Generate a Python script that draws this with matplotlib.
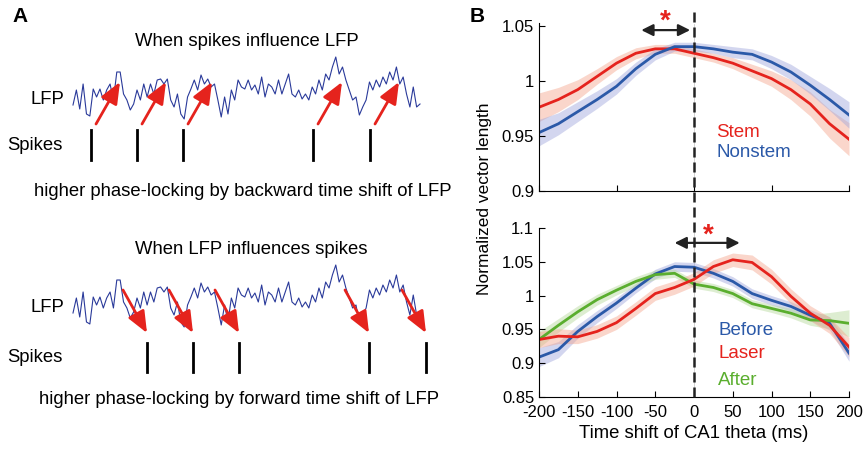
import matplotlib
matplotlib.use("Agg")
import matplotlib.pyplot as plt
import numpy as np

plt.rcParams['font.family'] = ['Liberation Sans', 'DejaVu Sans']
plt.rcParams['axes.unicode_minus'] = False

# ---------------- data: panel B ----------------
shift_ms = [-200, -175, -150, -125, -100, -75, -50, -25, 0,
            25, 50, 75, 100, 125, 150, 175, 200]

stem = [0.976, 0.983, 0.992, 1.004, 1.016, 1.025, 1.029, 1.029, 1.025,
        1.021, 1.016, 1.009, 1.002, 0.992, 0.979, 0.961, 0.947]
stem_err = [0.013, 0.011, 0.009, 0.007, 0.006, 0.005, 0.004, 0.004, 0.004,
            0.004, 0.005, 0.006, 0.007, 0.009, 0.011, 0.013, 0.015]
nonstem = [0.953, 0.961, 0.972, 0.983, 0.995, 1.011, 1.024, 1.031, 1.031,
           1.029, 1.026, 1.024, 1.017, 1.008, 0.996, 0.983, 0.969]
nonstem_err = [0.012, 0.010, 0.009, 0.008, 0.007, 0.006, 0.005, 0.004, 0.004,
               0.004, 0.005, 0.005, 0.006, 0.007, 0.008, 0.010, 0.012]

before = [0.909, 0.920, 0.947, 0.969, 0.989, 1.011, 1.032, 1.043, 1.042,
          1.033, 1.021, 1.003, 0.993, 0.984, 0.971, 0.959, 0.915]
before_err = [0.014, 0.012, 0.010, 0.009, 0.008, 0.007, 0.007, 0.007, 0.007,
              0.007, 0.007, 0.007, 0.007, 0.007, 0.008, 0.010, 0.012]
laser = [0.935, 0.940, 0.939, 0.947, 0.960, 0.981, 1.003, 1.012, 1.024,
         1.043, 1.053, 1.049, 1.028, 0.999, 0.974, 0.956, 0.924]
laser_err = [0.012, 0.011, 0.010, 0.010, 0.010, 0.010, 0.010, 0.010, 0.010,
             0.010, 0.010, 0.011, 0.011, 0.011, 0.011, 0.012, 0.014]
after = [0.935, 0.956, 0.976, 0.994, 1.008, 1.021, 1.031, 1.033, 1.017,
         1.012, 1.003, 0.988, 0.981, 0.974, 0.964, 0.963, 0.959]
after_err = [0.012, 0.010, 0.009, 0.008, 0.007, 0.007, 0.007, 0.006, 0.006,
             0.006, 0.006, 0.006, 0.006, 0.007, 0.008, 0.012, 0.020]

# ---------------- data: panel A (schematic) ----------------
# LFP trace sampled every ~3.3 px, amplitude in px above baseline
lfp = [-8, 7, -12, 13, -17, -19, 8, 0, 8, -3, 7, 13, -3, 25, 25, 3,
       -3, -13, -7, 7, -3, 13, 0, 13, 3, 17, 18, 13, 18, -3, -10, 3,
       -17, -22, 0, 8, 17, 7, 22, 13, 18, 10, 13, -3, -20, 0, -17, 7,
       -3, 17, 10, 8, 17, 7, 12, 3, 20, 0, 13, 10, 3, 17, 3, 13, 23,
       3, 0, 7, -2, 3, -3, 10, 3, 17, 7, 23, 17, 30, 40, 23, 30, 17,
       7, -3, 0, -18, -10, -3, 15, 7, 17, 10, 20, 13, 25, 17, 30, 13,
       20, 3, -10, 10, -10, -7]
lfp_x0, lfp_x1 = 73, 420

spikes_top = [91, 137, 183, 313, 370]
spikes_bottom = [147, 193, 239, 369, 426]

RED = '#e5231d'
BLUE = '#2b59a8'
GREEN = '#5aae2e'

fig = plt.figure(figsize=(8.64, 4.5), dpi=100)

# ---------------- panel A ----------------
axa = fig.add_axes([0, 0, 440 / 864, 1])
axa.set_xlim(0, 440)
axa.set_ylim(450, 0)
axa.axis('off')

lx = np.linspace(lfp_x0, lfp_x1, len(lfp))
la = np.array(lfp)
for base in (97, 305):
    axa.plot(lx, base - la, color='#2a3a9a', lw=0.8)

def txt(x, y, s, **kw):
    axa.text(x, y, s, fontsize=13.3, va='center', clip_on=False, **kw)

txt(247, 42, 'When spikes influence LFP', ha='center')
txt(64, 100, 'LFP', ha='right')
txt(63, 146, 'Spikes', ha='right')
txt(243, 192, 'higher phase-locking by backward time shift of LFP', ha='center')
txt(251, 250, 'When LFP influences spikes', ha='center')
txt(64, 307, 'LFP', ha='right')
txt(63, 357, 'Spikes', ha='right')
txt(239, 400, 'higher phase-locking by forward time shift of LFP', ha='center')

arrow_kw = dict(arrowstyle='-|>,head_length=1.0,head_width=0.42',
                color=RED, lw=2, mutation_scale=13, shrinkA=0, shrinkB=0)
for s in spikes_top:
    axa.plot([s, s], [130, 160], color='k', lw=2)
    axa.annotate('', xy=(s + 29, 82), xytext=(s + 5, 124), arrowprops=arrow_kw)
for s in spikes_bottom:
    axa.plot([s, s], [343, 372], color='k', lw=2)
    axa.annotate('', xy=(s, 333), xytext=(s - 24, 290), arrowprops=arrow_kw)

fig.text(12 / 864, 1 - 17 / 450, 'A', fontsize=15, fontweight='bold', va='center')
fig.text(470 / 864, 1 - 17 / 450, 'B', fontsize=15, fontweight='bold', va='center')

# ---------------- panel B ----------------
W = 310 / 864
ax1 = fig.add_axes([539 / 864, 1 - 191 / 450, W, 167.5 / 450])
ax2 = fig.add_axes([539 / 864, 1 - 397 / 450, W, 169 / 450])

def band(ax, y, e, c, fc):
    y = np.array(y)
    e = np.array(e)
    ax.fill_between(shift_ms, y - e, y + e, color=fc, alpha=0.45, lw=0)
    ax.plot(shift_ms, y, color=c, lw=2)

band(ax1, stem, stem_err, RED, '#f4a58c')
band(ax1, nonstem, nonstem_err, BLUE, '#9fa6dc')

band(ax2, before, before_err, BLUE, '#9fa6dc')
band(ax2, after, after_err, GREEN, '#b5d99a')
band(ax2, laser, laser_err, RED, '#f4a58c')

for ax in (ax1, ax2):
    ax.set_xlim(-200, 200)
    for sp in ('top', 'right'):
        ax.spines[sp].set_visible(False)
    ax.tick_params(direction='in', labelsize=12, length=4)
    ax.tick_params(axis='x', pad=6)
    ax.axvline(0, color='#cccccc', lw=0.6, zorder=0)

ax1.set_ylim(0.9, 1.052)
ax1.set_yticks([0.9, 0.95, 1.0, 1.05])
ax1.set_yticklabels(['0.9', '0.95', '1', '1.05'])
ax1.set_xticks([-200, -100, 0, 100, 200])
ax1.set_xticklabels([])

ax2.set_ylim(0.85, 1.1)
ax2.set_yticks([0.85, 0.9, 0.95, 1.0, 1.05, 1.1])
ax2.set_yticklabels(['0.85', '0.9', '0.95', '1', '1.05', '1.1'])
ax2.set_xticks(range(-200, 201, 50))
ax2.set_xlabel('Time shift of CA1 theta (ms)', fontsize=13.3, labelpad=3)

# dashed zero line spanning both panels
vl = ax2.axvline(0, ymin=0, ymax=2.28, color='#222222', lw=1.8,
                 clip_on=False, zorder=5)
vl.set_dashes((4, 2))

fig.text(484 / 864, 1 - 199 / 450, 'Normalized vector length', fontsize=12.5,
         rotation=90, ha='center', va='center')

# labels
lab = dict(fontsize=13.5, va='center')
ax1.text(0.572, 0.352, 'Stem', color=RED, transform=ax1.transAxes, **lab)
ax1.text(0.572, 0.227, 'Nonstem', color=BLUE, transform=ax1.transAxes, **lab)
ax2.text(0.578, 0.396, 'Before', color=BLUE, transform=ax2.transAxes, **lab)
ax2.text(0.578, 0.26, 'Laser', color=RED, transform=ax2.transAxes, **lab)
ax2.text(0.578, 0.10, 'After', color=GREEN, transform=ax2.transAxes, **lab)

# significance arrows
dbl = dict(arrowstyle='<|-|>,head_length=0.5,head_width=0.25', color='#222222',
           lw=1.6, mutation_scale=14, shrinkA=0, shrinkB=0)
ax1.annotate('', xy=(-68, 1.046), xytext=(-5, 1.046), arrowprops=dbl,
             annotation_clip=False)
ax1.text(-37, 1.054, '*', color=RED, fontsize=20, fontweight='bold',
         ha='center', va='center', clip_on=False)
ax2.annotate('', xy=(-25, 1.078), xytext=(59, 1.078), arrowprops=dbl,
             annotation_clip=False)
ax2.text(18, 1.088, '*', color=RED, fontsize=20, fontweight='bold',
         ha='center', va='center', clip_on=False)

fig.savefig('out.png', dpi=100)
